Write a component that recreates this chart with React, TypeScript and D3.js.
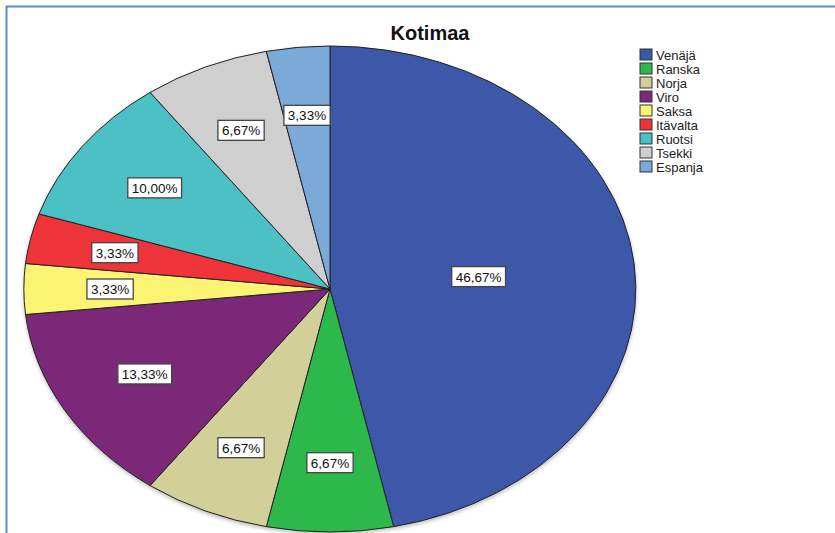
import React from "react";
import * as d3 from "d3";

const categories = ["Venäjä", "Ranska", "Norja", "Viro", "Saksa", "Itävalta", "Ruotsi", "Tsekki", "Espanja"];
const counts = [14, 2, 2, 4, 1, 1, 3, 2, 1];
const colors = ["#3d57a9", "#2db84b", "#d3cf98", "#7b2878", "#fbf472", "#ee3439", "#4bc1c6", "#cfcfcf", "#7ba9d8"];
const title = "Kotimaa";

const W = 835;
const H = 533;
const cx = 330;
const cy = 289;
const rx = 306;
const ry = 243;

const charW = (s: string, fs: number) =>
  s.split("").reduce((a, c) => a + (c === "," ? 0.278 : c === "%" ? 0.889 : 0.556), 0) * fs;

export default function App() {
  const total = d3.sum(counts);
  const pie = d3.pie<number>().sort(null).value((d) => d)(counts);
  const arc = d3.arc<d3.PieArcDatum<number>>().innerRadius(0).outerRadius(1);
  const fmt = (v: number) => ((v / total) * 100).toFixed(2).replace(".", ",") + "%";
  const fs = 13.5;

  return (
    <svg width={W} height={H} style={{ position: "absolute", left: 0, top: 0, fontFamily: "'Liberation Sans', Arial, sans-serif" }}>
      <defs>
        <filter id="sh" x="-20%" y="-20%" width="140%" height="140%">
          <feGaussianBlur stdDeviation="2" />
        </filter>
      </defs>
      <rect x={0} y={0} width={W} height={H} fill="#fff" />
      <line x1={6} y1={6.5} x2={W} y2={6.5} stroke="#5b8bd0" strokeWidth={2} />
      <line x1={6.5} y1={6} x2={6.5} y2={H} stroke="#5b8bd0" strokeWidth={2} />
      <text x={430} y={40} textAnchor="middle" fontSize={20} fontWeight="bold" fill="#111">{title}</text>
      <ellipse cx={cx} cy={cy + 2} rx={rx} ry={ry} fill="#000" opacity={0.3} filter="url(#sh)" />
      <g transform={`translate(${cx},${cy}) scale(${rx},${ry})`}>
        {pie.map((p, i) => (
          <path key={i} d={arc(p) || ""} fill={colors[i]} stroke="#222" strokeWidth={1} vectorEffect="non-scaling-stroke" />
        ))}
      </g>
      {pie.map((p, i) => {
        const mid = (p.startAngle + p.endAngle) / 2;
        const h = (p.endAngle - p.startAngle) / 2;
        const k = 1.08 * (2 / 3) * Math.sin(h) / h;
        const x = cx + Math.sin(mid) * rx * k;
        const y = cy - Math.cos(mid) * ry * k;
        const label = fmt(p.value);
        const tw = charW(label, fs) + 8;
        return (
          <g key={i}>
            <rect x={x - tw / 2} y={y - 10} width={tw} height={20} fill="#fff" stroke="#444" strokeWidth={1.3} />
            <text x={x} y={y + 5} textAnchor="middle" fontSize={fs} fill="#111">{label}</text>
          </g>
        );
      })}
      {categories.map((c, i) => (
        <g key={c} transform={`translate(640,${49 + i * 14})`}>
          <rect x={0} y={0} width={12} height={11} fill={colors[i]} stroke="#333" strokeWidth={1} />
          <text x={16} y={10.5} fontSize={13} fill="#222">{c}</text>
        </g>
      ))}
    </svg>
  );
}
